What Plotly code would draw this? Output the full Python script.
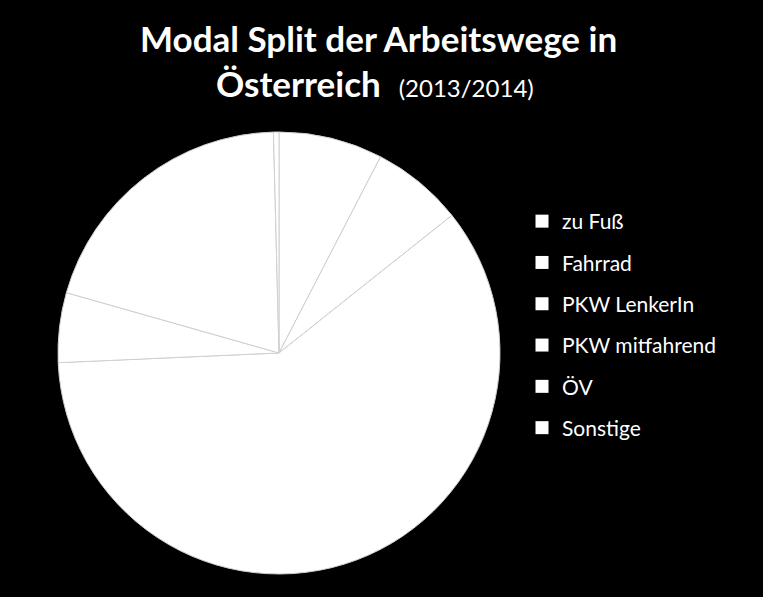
import plotly.graph_objects as go

# Modal split of commuting trips, Austria 2013/2014 (share in %)
modes = ["zu Fuß", "Fahrrad", "PKW LenkerIn", "PKW mitfahrend", "ÖV", "Sonstige"]
shares = [7.6, 6.7, 60.0, 5.1, 20.2, 0.4]
slice_colors = ["#ffffff"] * len(modes)

W, H = 763, 597
FONT = "Lato"

fig = go.Figure()

fig.add_trace(
    go.Pie(
        labels=modes,
        values=shares,
        sort=False,
        direction="clockwise",
        rotation=0,
        textinfo="none",
        marker=dict(colors=slice_colors, line=dict(color="#d0d0d0", width=1)),
        domain=dict(x=[58 / W, 500 / W], y=[23 / H, 465 / H]),
        showlegend=False,
        hovertemplate="%{label}: %{value:.1f}%<extra></extra>",
    )
)

# legend entries (one group each so the rows can be spaced like the original)
for name, col in zip(modes, slice_colors):
    fig.add_trace(
        go.Scatter(
            x=[None],
            y=[None],
            mode="markers",
            name=name,
            legendgroup=name,
            marker=dict(symbol="square", size=13, color=col),
            hoverinfo="skip",
        )
    )

fig.add_annotation(
    text="<b>Modal Split der Arbeitswege in</b>",
    x=378 / W, y=1 - 38 / H, xref="paper", yref="paper",
    xanchor="center", yanchor="middle", showarrow=False,
    font=dict(family=FONT, size=35, color="#ffffff"),
)
fig.add_annotation(
    text="<b>Österreich</b>  <span style='font-size:24px'>(2013/2014)</span>",
    x=375 / W, y=1 - 83 / H, xref="paper", yref="paper",
    xanchor="center", yanchor="middle", showarrow=False,
    font=dict(family=FONT, size=35, color="#ffffff"),
)

fig.update_layout(
    width=W,
    height=H,
    margin=dict(l=0, r=0, t=0, b=0),
    paper_bgcolor="#000000",
    plot_bgcolor="#000000",
    font=dict(family=FONT, color="#ffffff"),
    xaxis=dict(visible=False),
    yaxis=dict(visible=False),
    showlegend=True,
    legend=dict(
        x=522 / W,
        y=1 - 201 / H,
        xanchor="left",
        yanchor="top",
        bgcolor="rgba(0,0,0,0)",
        font=dict(family=FONT, size=21, color="#ffffff"),
        tracegroupgap=11,
        traceorder="grouped",
    ),
)

fig.write_html(
    "out.html",
    config={"displayModeBar": False},
    post_script="document.body.style.margin='0';document.body.style.background='#000';",
)
